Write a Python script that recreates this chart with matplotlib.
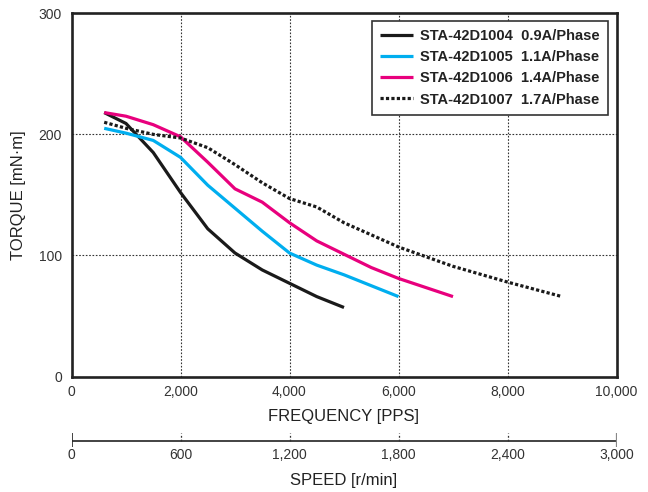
import matplotlib.pyplot as plt

plt.rcParams['font.family'] = ['Liberation Sans', 'DejaVu Sans']

# torque curves (frequency in PPS, torque in mN·m)
freq_1004 = [600, 1000, 1500, 2000, 2500, 3000, 3500, 4000, 4500, 5000]
torque_1004 = [218, 209, 185, 152, 122, 102, 88, 77, 66, 57]

freq_1005 = [600, 1000, 1500, 2000, 2500, 3000, 3500, 4000, 4500, 5000, 5500, 6000]
torque_1005 = [205, 201, 195, 181, 158, 139, 120, 102, 92, 84, 75, 66]

freq_1006 = [600, 1000, 1500, 2000, 2500, 3000, 3500, 4000, 4500, 5000, 5500, 6000, 7000]
torque_1006 = [218, 215, 208, 198, 177, 155, 144, 127, 112, 101, 90, 81, 66]

freq_1007 = [600, 1000, 1500, 2000, 2500, 3000, 3500, 4000, 4500, 5000, 6000, 7000, 8000, 9000]
torque_1007 = [210, 205, 200, 197, 189, 175, 160, 147, 140, 127, 107, 91, 78, 66]

labels = ["STA-42D1004  0.9A/Phase", "STA-42D1005  1.1A/Phase",
          "STA-42D1006  1.4A/Phase", "STA-42D1007  1.7A/Phase"]

freq_ticks = [0, 2000, 4000, 6000, 8000, 10000]
torque_ticks = [0, 100, 200, 300]
speed_ticks = [0, 600, 1200, 1800, 2400, 3000]

W, H = 648, 492
fig = plt.figure(figsize=(W / 100, H / 100), dpi=100)

# main torque axes
x0, x1 = 71.5, 616.5
y_top, y_bot = 13.3, 376.5
ax = fig.add_axes([x0 / W, 1 - y_bot / H, (x1 - x0) / W, (y_bot - y_top) / H])

ax.plot(freq_1004, torque_1004, color="#1a1a1a", lw=2.3, label=labels[0], solid_capstyle="butt")
ax.plot(freq_1005, torque_1005, color="#00aeef", lw=2.3, label=labels[1], solid_capstyle="butt")
ax.plot(freq_1006, torque_1006, color="#e8007d", lw=2.3, label=labels[2], solid_capstyle="butt")
ax.plot(freq_1007, torque_1007, color="#1a1a1a", lw=2.3, ls=(0, (1, 0.7)), label=labels[3])

ax.set_xlim(0, 10000)
ax.set_ylim(0, 300)
ax.set_xticks(freq_ticks)
ax.set_xticklabels([f"{v:,}" for v in freq_ticks])
ax.set_yticks(torque_ticks)
ax.tick_params(length=0, labelsize=10, colors="#333333")
ax.tick_params(axis="x", pad=6)
ax.tick_params(axis="y", pad=7)
ax.grid(True, color="#333333", lw=0.8, ls=(0, (1.5, 1.5)))
for s in ax.spines.values():
    s.set_linewidth(1.9)
    s.set_color("#222222")
ax.set_xlabel("FREQUENCY [PPS]", fontsize=12, color="#222222", labelpad=7)
ax.set_ylabel("TORQUE [mN·m]", fontsize=12, color="#222222", labelpad=9)

leg = ax.legend(loc="upper right", bbox_to_anchor=(608 / W, 1 - 20.7 / H),
                bbox_transform=fig.transFigure, fancybox=False, framealpha=1,
                edgecolor="#333333", handlelength=2.3, handletextpad=0.5,
                labelspacing=0.5, borderpad=0.55, borderaxespad=0,
                prop={"weight": "bold", "size": 10.5})
leg.get_frame().set_linewidth(1.2)
for t in leg.get_texts():
    t.set_color("#222222")

# secondary speed scale
s_top, s_bot = 433.0, 447.0
ax2 = fig.add_axes([x0 / W, 1 - s_bot / H, (x1 - x0) / W, (s_bot - s_top) / H])
ax2.set_xlim(0, 3000)
ax2.set_ylim(0, 1)
ax2.axhline(0.45, color="#222222", lw=1.2)
ax2.vlines([speed_ticks[0]], 0, 1, color="#222222", lw=1.2)
ax2.vlines([speed_ticks[-1]], 0, 1, color="#888888", lw=1.6)
ax2.vlines(speed_ticks[1:-1], 0.45, 1, color="#333333", lw=0.9, linestyles=(0, (1.5, 1.5)))
for s in ax2.spines.values():
    s.set_visible(False)
ax2.set_yticks([])
ax2.set_xticks(speed_ticks)
ax2.set_xticklabels([f"{v:,}" for v in speed_ticks])
ax2.tick_params(length=0, labelsize=10, colors="#333333", pad=1)
ax2.set_xlabel("SPEED [r/min]", fontsize=12, color="#222222", labelpad=8)
ax2.patch.set_visible(False)

fig.savefig("out.png", dpi=100)
